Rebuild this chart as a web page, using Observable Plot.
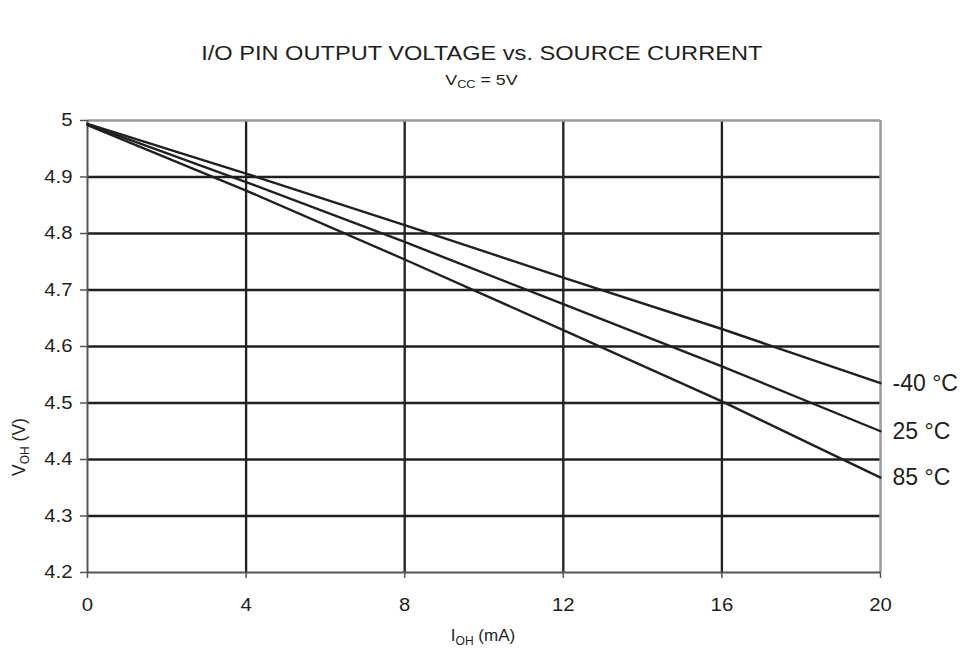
<!DOCTYPE html>
<html>
<head>
<meta charset="utf-8">
<script src="https://cdn.jsdelivr.net/npm/d3@7"></script>
<script src="https://cdn.jsdelivr.net/npm/@observablehq/plot@0.6"></script>
<style>
  body { margin: 0; background: #fff; font-family: "Liberation Sans", Arial, Helvetica, sans-serif; color: #231f20; }
  #wrap { width: 963px; height: 655px; position: relative; overflow: hidden; }
  #head { position: relative; height: 100px; }
  .hl { position: absolute; left: 0; width: 963px; text-align: center; }
  .hl span { display: inline-block; transform-origin: center; }
  #title { top: 41px; font-size: 20px; line-height: 24px; }
  #title span { transform: scaleX(1.18); }
  #sub { top: 71px; font-size: 15.5px; line-height: 18px; }
  #sub span { transform: scaleX(1.15); }
  #sub sub { font-size: 11px; vertical-align: -3px; line-height: 0; }
</style>
</head>
<body>
<div id="wrap">
  <div id="head">
    <div id="title" class="hl"><span>I/O PIN OUTPUT VOLTAGE vs. SOURCE CURRENT</span></div>
    <div id="sub" class="hl"><span>V<sub>CC</sub> = 5V</span></div>
  </div>
  <div id="chart"></div>
</div>
<script>
// Data
const currents = [0, 4, 8, 12, 16, 20];                      // I_OH (mA)
const vohM40 = [4.994, 4.906, 4.815, 4.722, 4.631, 4.535];   // -40 °C
const voh25  = [4.993, 4.891, 4.785, 4.675, 4.565, 4.450];   // 25 °C
const voh85  = [4.992, 4.876, 4.754, 4.629, 4.503, 4.368];   // 85 °C
const seriesNames = ["-40 °C", "25 °C", "85 °C"];
const xTicks = [0, 4, 8, 12, 16, 20];
const yTicks = [4.2, 4.3, 4.4, 4.5, 4.6, 4.7, 4.8, 4.9, 5];
const xTickLabels = ["0", "4", "8", "12", "16", "20"];
const yTickLabels = ["4.2", "4.3", "4.4", "4.5", "4.6", "4.7", "4.8", "4.9", "5"];

const seriesValues = [vohM40, voh25, voh85];
const rows = [];
seriesValues.forEach((vals, i) => vals.forEach((v, j) => rows.push({series: seriesNames[i], x: currents[j], y: v})));
const ends = seriesValues.map((vals, i) => ({series: seriesNames[i], x: currents[currents.length - 1], y: vals[vals.length - 1]}));
const xLab = xTicks.map((v, i) => ({v, t: xTickLabels[i]}));
const yLab = yTicks.map((v, i) => ({v, t: yTickLabels[i]}));

const ink = "#231f20";
const chart = Plot.plot({
  width: 963,
  height: 555,
  marginTop: 20,
  marginBottom: 83,
  marginLeft: 87,
  marginRight: 83,
  style: {fontFamily: '"Liberation Sans", Arial, Helvetica, sans-serif', color: ink, background: "#fff", overflow: "visible"},
  x: {domain: [0, 20], label: null},
  y: {domain: [4.2, 5], label: null},
  marks: [
    Plot.gridX(xTicks.filter(d => d > 0 && d < 20), {stroke: ink, strokeOpacity: 1, strokeWidth: 2.3}),
    Plot.gridY(yTicks.filter(d => d > 4.2 && d < 5), {stroke: ink, strokeOpacity: 1, strokeWidth: 2.3}),
    Plot.ruleY([5], {stroke: "#9a9a9a", strokeWidth: 2.5}),
    Plot.ruleX([20], {stroke: "#9a9a9a", strokeWidth: 2.5}),
    Plot.ruleX([0], {stroke: "#555", strokeWidth: 2}),
    Plot.ruleY([4.2], {stroke: "#555", strokeWidth: 2}),
    Plot.axisX(xTicks, {tickSize: 6, stroke: "#555", strokeWidth: 1.5, tickFormat: () => "", label: null}),
    Plot.axisY(yTicks, {tickSize: 7, stroke: "#555", strokeWidth: 1.5, tickFormat: () => "", label: null}),
    Plot.text(yLab, {y: "v", text: "t", frameAnchor: "left", dx: -15, textAnchor: "end", fontSize: 17.5, fill: ink, className: "stretch"}),
    Plot.text(xLab, {x: "v", text: "t", frameAnchor: "bottom", dy: 33, lineAnchor: "middle", textAnchor: "middle", fontSize: 17.5, fill: ink, className: "stretch"}),
    Plot.line(rows, {x: "x", y: "y", z: "series", stroke: ink, strokeWidth: 2.4}),
    Plot.text(ends, {x: "x", y: "y", text: "series", dx: 12, textAnchor: "start", fontSize: 23, fill: ink})
  ]
});
document.getElementById("chart").appendChild(chart);

// Axis titles with subscripts
const svg = d3.select(chart);
const ylab = svg.append("text")
  .attr("transform", "translate(25,347) rotate(-90)")
  .attr("text-anchor", "middle")
  .attr("fill", ink)
  .style("font-size", "17.5px");
ylab.append("tspan").text("V");
ylab.append("tspan").text("OH").style("font-size", "12px").attr("dy", "4");
ylab.append("tspan").text(" (V)").attr("dy", "-4");

const xlab = svg.append("text")
  .attr("x", 483)
  .attr("y", 541)
  .attr("text-anchor", "middle")
  .attr("fill", ink)
  .style("font-size", "17px");
xlab.append("tspan").text("I");
xlab.append("tspan").text("OH").style("font-size", "12px").attr("dy", "4");
xlab.append("tspan").text(" (mA)").attr("dy", "-4");

// The reference lettering is slightly wide: stretch tick labels horizontally
svg.selectAll(".stretch text").each(function() {
  const len = this.getComputedTextLength();
  this.setAttribute("textLength", (len * 1.16).toFixed(1));
  this.setAttribute("lengthAdjust", "spacingAndGlyphs");
});
</script>
</body>
</html>
